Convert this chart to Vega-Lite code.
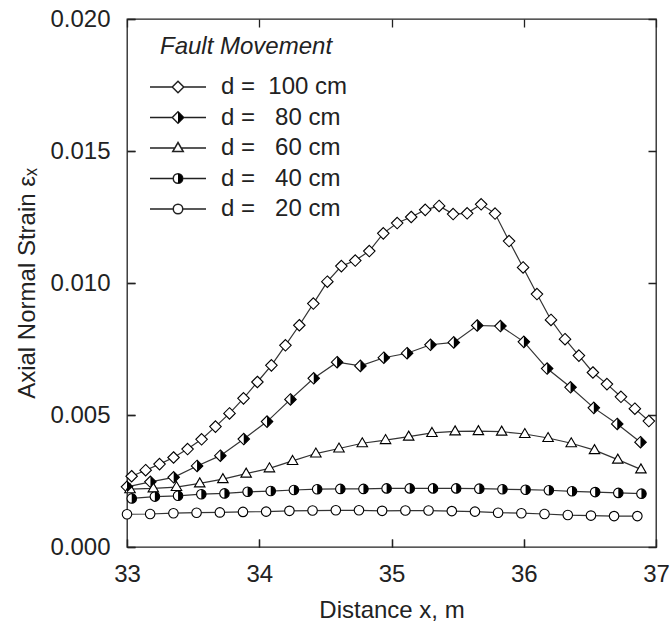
{
  "$schema": "https://vega.github.io/schema/vega-lite/v6.json",
  "width": 529,
  "height": 528,
  "autosize": {"type": "none"},
  "padding": {"left": 127, "top": 19, "right": 14, "bottom": 77},
  "background": "white",
  "config": {
    "view": {"stroke": "#222", "strokeWidth": 1.3},
    "font": "Liberation Sans",
    "axis": {
      "labelColor": "#222", "titleColor": "#222",
      "labelFont": "Liberation Sans", "titleFont": "Liberation Sans",
      "labelFontSize": 24, "titleFontSize": 24, "titleFontWeight": "normal",
      "labelOverlap": false, "labelFlush": false, "labelBound": false
    },
    "legend": {
      "titleFont": "Liberation Sans", "titleFontSize": 24, "titleFontStyle": "italic", "titleFontWeight": "normal", "titleColor": "#222",
      "labelFont": "Liberation Sans", "labelFontSize": 24, "labelColor": "#222",
      "symbolSize": 100, "padding": 0, "rowPadding": 6.5, "titlePadding": 16,
      "symbolOffset": 6, "labelOffset": 31
    }
  },
  "data": {"values": [
    {"s":"100","x":33.035,"y":0.00268},{"s":"100","x":33.141,"y":0.00291},{"s":"100","x":33.246,"y":0.00314},{"s":"100","x":33.352,"y":0.00339},
    {"s":"100","x":33.458,"y":0.00371},{"s":"100","x":33.564,"y":0.00408},{"s":"100","x":33.669,"y":0.00456},{"s":"100","x":33.775,"y":0.00506},
    {"s":"100","x":33.881,"y":0.00563},{"s":"100","x":33.986,"y":0.00625},{"s":"100","x":34.092,"y":0.00688},{"s":"100","x":34.198,"y":0.00764},
    {"s":"100","x":34.303,"y":0.00840},{"s":"100","x":34.409,"y":0.00922},{"s":"100","x":34.515,"y":0.01005},{"s":"100","x":34.621,"y":0.01064},
    {"s":"100","x":34.726,"y":0.01085},{"s":"100","x":34.832,"y":0.01121},{"s":"100","x":34.938,"y":0.01188},{"s":"100","x":35.043,"y":0.01227},
    {"s":"100","x":35.149,"y":0.01250},{"s":"100","x":35.255,"y":0.01277},{"s":"100","x":35.360,"y":0.01292},{"s":"100","x":35.466,"y":0.01261},
    {"s":"100","x":35.572,"y":0.01264},{"s":"100","x":35.678,"y":0.01298},{"s":"100","x":35.783,"y":0.01263},{"s":"100","x":35.889,"y":0.01159},
    {"s":"100","x":35.995,"y":0.01059},{"s":"100","x":36.100,"y":0.00958},{"s":"100","x":36.206,"y":0.00860},{"s":"100","x":36.312,"y":0.00787},
    {"s":"100","x":36.417,"y":0.00725},{"s":"100","x":36.523,"y":0.00661},{"s":"100","x":36.629,"y":0.00617},{"s":"100","x":36.735,"y":0.00569},
    {"s":"100","x":36.840,"y":0.00524},{"s":"100","x":36.946,"y":0.00477},

    {"s":"80","x":33.000,"y":0.00228},{"s":"80","x":33.177,"y":0.00247},{"s":"80","x":33.353,"y":0.00264},{"s":"80","x":33.530,"y":0.00307},
    {"s":"80","x":33.706,"y":0.00346},{"s":"80","x":33.883,"y":0.00409},{"s":"80","x":34.059,"y":0.00475},{"s":"80","x":34.236,"y":0.00559},
    {"s":"80","x":34.412,"y":0.00639},{"s":"80","x":34.589,"y":0.00700},{"s":"80","x":34.765,"y":0.00686},{"s":"80","x":34.942,"y":0.00717},
    {"s":"80","x":35.118,"y":0.00734},{"s":"80","x":35.295,"y":0.00766},{"s":"80","x":35.471,"y":0.00775},{"s":"80","x":35.648,"y":0.00839},
    {"s":"80","x":35.824,"y":0.00837},{"s":"80","x":36.001,"y":0.00777},{"s":"80","x":36.177,"y":0.00676},{"s":"80","x":36.354,"y":0.00605},
    {"s":"80","x":36.530,"y":0.00527},{"s":"80","x":36.707,"y":0.00466},{"s":"80","x":36.883,"y":0.00397},

    {"s":"60","x":33.023,"y":0.00219},{"s":"60","x":33.199,"y":0.00222},{"s":"60","x":33.374,"y":0.00227},{"s":"60","x":33.550,"y":0.00241},
    {"s":"60","x":33.725,"y":0.00257},{"s":"60","x":33.901,"y":0.00278},{"s":"60","x":34.077,"y":0.00298},{"s":"60","x":34.252,"y":0.00326},
    {"s":"60","x":34.428,"y":0.00354},{"s":"60","x":34.603,"y":0.00373},{"s":"60","x":34.779,"y":0.00393},{"s":"60","x":34.955,"y":0.00405},
    {"s":"60","x":35.130,"y":0.00418},{"s":"60","x":35.306,"y":0.00432},{"s":"60","x":35.481,"y":0.00438},{"s":"60","x":35.657,"y":0.00439},
    {"s":"60","x":35.833,"y":0.00437},{"s":"60","x":36.008,"y":0.00428},{"s":"60","x":36.184,"y":0.00413},{"s":"60","x":36.359,"y":0.00393},
    {"s":"60","x":36.535,"y":0.00367},{"s":"60","x":36.711,"y":0.00331},{"s":"60","x":36.886,"y":0.00294},

    {"s":"40","x":33.036,"y":0.00184},{"s":"40","x":33.211,"y":0.00191},{"s":"40","x":33.386,"y":0.00194},{"s":"40","x":33.562,"y":0.00200},
    {"s":"40","x":33.737,"y":0.00203},{"s":"40","x":33.912,"y":0.00209},{"s":"40","x":34.087,"y":0.00212},{"s":"40","x":34.262,"y":0.00216},
    {"s":"40","x":34.438,"y":0.00219},{"s":"40","x":34.613,"y":0.00220},{"s":"40","x":34.788,"y":0.00220},{"s":"40","x":34.963,"y":0.00222},
    {"s":"40","x":35.138,"y":0.00222},{"s":"40","x":35.314,"y":0.00222},{"s":"40","x":35.489,"y":0.00222},{"s":"40","x":35.664,"y":0.00221},
    {"s":"40","x":35.839,"y":0.00219},{"s":"40","x":36.014,"y":0.00217},{"s":"40","x":36.190,"y":0.00215},{"s":"40","x":36.365,"y":0.00211},
    {"s":"40","x":36.540,"y":0.00208},{"s":"40","x":36.715,"y":0.00205},{"s":"40","x":36.890,"y":0.00202},

    {"s":"20","x":33.000,"y":0.00124},{"s":"20","x":33.175,"y":0.00125},{"s":"20","x":33.351,"y":0.00128},{"s":"20","x":33.526,"y":0.00130},
    {"s":"20","x":33.702,"y":0.00131},{"s":"20","x":33.877,"y":0.00133},{"s":"20","x":34.052,"y":0.00134},{"s":"20","x":34.228,"y":0.00137},
    {"s":"20","x":34.403,"y":0.00138},{"s":"20","x":34.579,"y":0.00139},{"s":"20","x":34.754,"y":0.00139},{"s":"20","x":34.929,"y":0.00137},
    {"s":"20","x":35.105,"y":0.00138},{"s":"20","x":35.280,"y":0.00138},{"s":"20","x":35.456,"y":0.00136},{"s":"20","x":35.631,"y":0.00134},
    {"s":"20","x":35.806,"y":0.00130},{"s":"20","x":35.982,"y":0.00128},{"s":"20","x":36.157,"y":0.00125},{"s":"20","x":36.333,"y":0.00121},
    {"s":"20","x":36.508,"y":0.00119},{"s":"20","x":36.683,"y":0.00117},{"s":"20","x":36.859,"y":0.00117}
  ]},
  "layer": [
    {
      "mark": {"type": "line", "color": "#333", "strokeWidth": 1.2},
      "encoding": {
        "x": {"field": "x", "type": "quantitative", "scale": {"domain": [33, 37], "nice": false, "zero": false},
          "axis": {"orient": "bottom", "title": "Distance x, m", "titlePadding": 12, "labelPadding": 23,
            "domain": false, "labelOverlap": false, "labelFlush": false, "labelBound": false,
            "values": [33, 34, 35, 36, 37], "format": "d",
            "tickSize": -8, "tickColor": "#222", "tickWidth": 1.3,
            "grid": true, "gridColor": "#222", "gridOpacity": 1, "gridWidth": 1.3, "gridDash": [8, 512]}},
        "y": {"field": "y", "type": "quantitative", "scale": {"domain": [0, 0.02], "nice": false, "zero": false},
          "axis": {"orient": "left", "title": "Axial Normal Strain εₓ", "titlePadding": 10, "labelPadding": 25,
            "domain": false, "labelOverlap": false, "labelFlush": false, "labelBound": false,
            "values": [0, 0.005, 0.01, 0.015, 0.02], "format": ".3f",
            "tickSize": -8, "tickColor": "#222", "tickWidth": 1.3,
            "grid": true, "gridColor": "#222", "gridOpacity": 1, "gridWidth": 1.3, "gridDash": [8, 513]}},
        "detail": {"field": "s", "type": "nominal"}
      }
    },
    {
      "mark": {"type": "point", "opacity": 0, "size": 100, "filled": true, "fill": "white", "stroke": "#222"},
      "encoding": {
        "x": {"field": "x", "type": "quantitative"},
        "y": {"field": "y", "type": "quantitative"},
        "shape": {"field": "s", "type": "nominal",
          "scale": {"domain": ["100", "80", "60", "40", "20"],
            "range": ["M-5.6,0L-1.15,0M1.15,0L5.6,0M0,-1.15L1.15,0L0,1.15L-1.15,0Z", "M-5.6,0L-1.15,0M1.15,0L5.6,0M0,-1.15L1.15,0L0,1.15L-1.15,0Z", "M-5.6,0L-0.64,0M0.64,0L5.6,0M0,-1.1L1.05,0.7L-1.05,0.7Z", "M-5.6,0L-0.95,0M0.95,0L5.6,0M-0.95,0A0.95,0.95 0 1,0 0.95,0A0.95,0.95 0 1,0 -0.95,0Z", "M-5.6,0L-0.95,0M0.95,0L5.6,0M-0.95,0A0.95,0.95 0 1,0 0.95,0A0.95,0.95 0 1,0 -0.95,0Z"]},
          "legend": {"orient": "none", "legendX": 33, "legendY": 16, "direction": "vertical", "title": "Fault Movement",
            "labelExpr": "'d =\u00a0\u00a0' + (datum.value === '100' ? '' : '\u00a0') + datum.value + ' cm'",
            "encode": {"symbols": {"update": {
              "fill": {"value": "white"}, "stroke": {"value": "#222"}, "strokeWidth": {"value": 1.1}, "opacity": {"value": 1}}}}}}
      }
    },
    {
      "mark": {"type": "point", "filled": true, "fill": "white", "stroke": "black", "strokeWidth": 1.1, "size": 100, "opacity": 1},
      "encoding": {
        "x": {"field": "x", "type": "quantitative"},
        "y": {"field": "y", "type": "quantitative"},
        "shape": {"field": "s", "type": "nominal",
          "scale": {"domain": ["100", "80", "60", "40", "20"],
            "range": ["M0,-1.15L1.15,0L0,1.15L-1.15,0Z", "M0,-1.15L1.15,0L0,1.15L-1.15,0Z", "M0,-1.1L1.05,0.7L-1.05,0.7Z", "M-0.95,0A0.95,0.95 0 1,0 0.95,0A0.95,0.95 0 1,0 -0.95,0Z", "M-0.95,0A0.95,0.95 0 1,0 0.95,0A0.95,0.95 0 1,0 -0.95,0Z"]},
          "legend": null}
      }
    },
    {
      "transform": [{"filter": "datum.s === '80' || datum.s === '40'"}],
      "mark": {"type": "point", "filled": true, "fill": "black", "strokeWidth": 0, "size": 100, "opacity": 1},
      "encoding": {
        "x": {"field": "x", "type": "quantitative"},
        "y": {"field": "y", "type": "quantitative"},
        "shape": {"field": "s", "type": "nominal",
          "scale": {"domain": ["100", "80", "60", "40", "20"],
            "range": ["M0,0", "M0,-1.15L1.15,0L0,1.15Z", "M0,0", "M0,-0.95A0.95,0.95 0 0,1 0,0.95Z", "M0,0"]},
          "legend": {"orient": "none", "legendX": 33, "legendY": 16, "direction": "vertical", "title": "Fault Movement",
            "titleOpacity": 0, "labelOpacity": 0,
            "labelExpr": "'d =\u00a0\u00a0' + (datum.value === '100' ? '' : '\u00a0') + datum.value + ' cm'",
            "encode": {"symbols": {"update": {"fill": {"value": "black"}, "strokeWidth": {"value": 0}, "opacity": {"value": 1}}}}}}
      }
    }
  ],
  "resolve": {"scale": {"shape": "independent"}}
}
